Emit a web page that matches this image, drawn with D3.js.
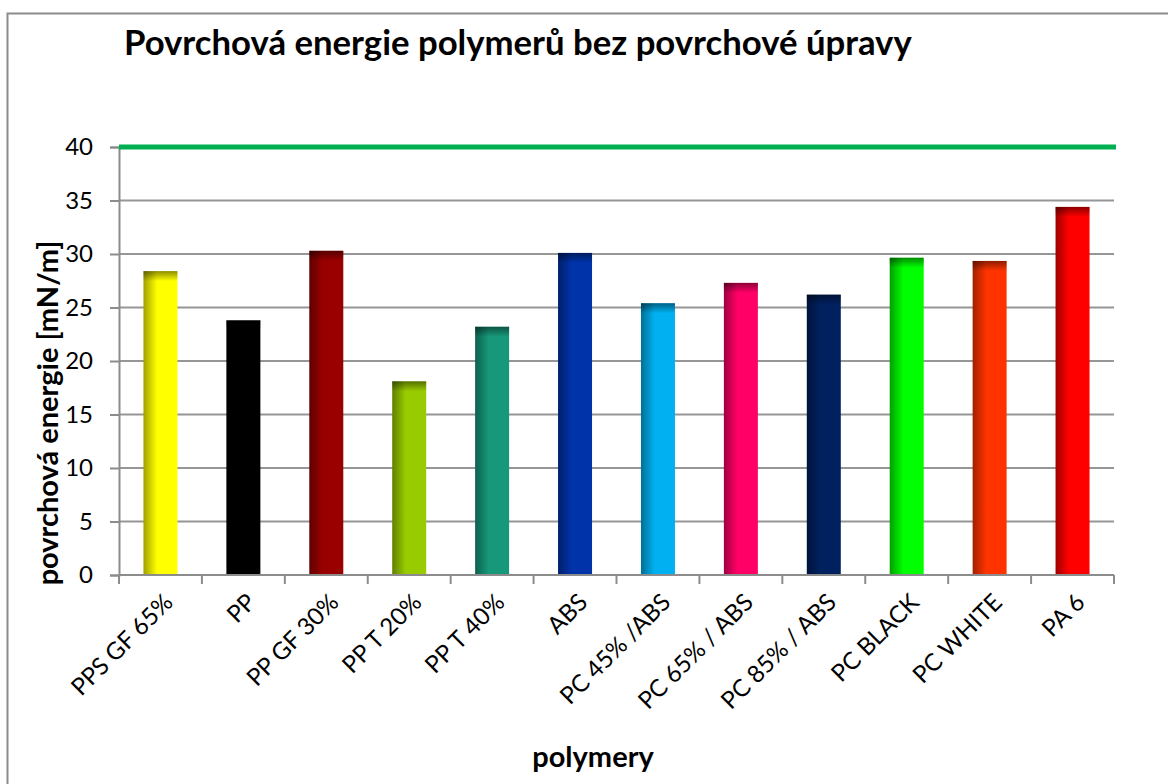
<!DOCTYPE html>
<html>
<head>
<meta charset="utf-8">
<script src="https://cdn.jsdelivr.net/npm/d3@7"></script>
<style>
    body { margin: 0; background: #fff; }
    svg { font-family: Lato, "Open Sans", sans-serif; }
</style>
</head>
<body>
<svg id="chart" width="1168" height="784"></svg>
<script>
let categories = ['PPS GF 65%', 'PP', 'PP GF 30%', 'PP T 20%', 'PP T 40%', 'ABS',
    'PC 45% /ABS', 'PC 65% / ABS', 'PC 85% / ABS', 'PC BLACK', 'PC WHITE', 'PA 6'];
let energies = [28.4, 23.8, 30.3, 18.1, 23.2, 30.1, 25.4, 27.3, 26.2, 29.65, 29.35, 34.4];
let barColors = ['#FFFF00', '#000000', '#990000', '#99CC00', '#17987A', '#0033AA',
    '#00B0F0', '#FF0066', '#002060', '#00FF00', '#FF3300', '#FF0000'];
let yTicks = [0, 5, 10, 15, 20, 25, 30, 35, 40];
let limitValue = 40;

let svg = d3.select('#chart');
let plotLeft = 119, plotRight = 1114, plotTop = 147, plotBottom = 575;

// outer chart border
svg.append('rect')
    .attr('x', 7.5).attr('y', 13.5)
    .attr('width', 1200).attr('height', 800)
    .style('fill', 'none').style('stroke', '#8c8c8c').style('stroke-width', 2);

let x = d3.scaleBand().domain(categories).range([plotLeft, plotRight])
    .paddingInner(0.59).paddingOuter(0.295);
let y = d3.scaleLinear().domain([0, 40]).range([plotBottom, plotTop]);

let defs = svg.append('defs');
categories.forEach((c, i) => {
    let base = d3.color(barColors[i]);
    let dark = i == 1 ? base : base.darker(1.3);
    let g = defs.append('linearGradient').attr('id', 'bar' + i)
        .attr('x1', 0).attr('x2', 1).attr('y1', 0).attr('y2', 0);
    g.append('stop').attr('offset', '0%').attr('stop-color', dark);
    g.append('stop').attr('offset', '40%').attr('stop-color', base);
    g.append('stop').attr('offset', '100%').attr('stop-color', base);
});
let topShade = defs.append('linearGradient').attr('id', 'topShade')
    .attr('x1', 0).attr('x2', 0).attr('y1', 0).attr('y2', 1);
topShade.append('stop').attr('offset', '0%').attr('stop-color', '#000').attr('stop-opacity', 0.45);
topShade.append('stop').attr('offset', '100%').attr('stop-color', '#000').attr('stop-opacity', 0);

// gridlines
svg.append('g').selectAll('line')
    .data(yTicks.filter(t => t > 0))
    .join('line')
    .attr('x1', plotLeft).attr('x2', plotRight)
    .attr('y1', d => y(d)).attr('y2', d => y(d))
    .style('stroke', '#969696').style('stroke-width', 2);

// y axis (labels drawn separately)
let yAxis = svg.append('g')
    .attr('transform', `translate(${plotLeft},0)`)
    .call(d3.axisLeft(y).tickValues(yTicks).tickSize(9).tickFormat(''));
yAxis.select('.domain').style('stroke', '#8c8c8c').style('stroke-width', 2);
yAxis.selectAll('.tick line').style('stroke', '#8c8c8c').style('stroke-width', 2);
svg.append('g').selectAll('text')
    .data(yTicks)
    .join('text')
    .attr('x', plotLeft - 26)
    .attr('y', d => y(d))
    .attr('dy', '0.35em')
    .attr('text-anchor', 'end')
    .style('font-size', '24px')
    .text(d => d);

// bars
let bars = svg.append('g').selectAll('g')
    .data(categories)
    .join('g');
bars.append('rect')
    .attr('x', d => x(d))
    .attr('y', (d, i) => y(energies[i]))
    .attr('width', x.bandwidth())
    .attr('height', (d, i) => y(0) - y(energies[i]))
    .style('fill', (d, i) => `url(#bar${i})`);
bars.append('rect')
    .attr('x', d => x(d))
    .attr('y', (d, i) => y(energies[i]))
    .attr('width', x.bandwidth())
    .attr('height', 10)
    .style('fill', 'url(#topShade)');

// x axis with ticks on category boundaries
let xAxis = svg.append('g');
xAxis.append('line')
    .attr('x1', plotLeft).attr('x2', plotRight)
    .attr('y1', plotBottom).attr('y2', plotBottom)
    .style('stroke', '#8c8c8c').style('stroke-width', 2);
xAxis.selectAll('.bnd')
    .data(d3.range(categories.length + 1))
    .join('line')
    .attr('x1', i => plotLeft + i * x.step()).attr('x2', i => plotLeft + i * x.step())
    .attr('y1', plotBottom).attr('y2', plotBottom + 9)
    .style('stroke', '#8c8c8c').style('stroke-width', 2);
xAxis.selectAll('text')
    .data(categories)
    .join('text')
    .attr('transform', d => `translate(${x(d) + x.bandwidth() / 2 + 2},${plotBottom + 17}) rotate(-45)`)
    .attr('text-anchor', 'end')
    .attr('dy', '0.7em')
    .style('font-size', '24px')
    .text(d => d);

// limit line
svg.append('path')
    .datum([plotLeft, plotRight + 2])
    .attr('d', d3.line().x(d => d).y(() => y(limitValue)))
    .style('stroke', '#00B050').style('stroke-width', 5).style('fill', 'none');

// titles
let title = svg.append('text')
    .attr('x', 124).attr('y', 55)
    .style('font-size', '27px').style('font-weight', 'bold')
    .text('Povrchová energie polymerů bez povrchové úpravy');
let tw = title.node().getComputedTextLength();
title.style('font-size', (27 * 788 / tw) + 'px');

svg.append('text')
    .attr('transform', 'translate(58,413) rotate(-90)')
    .attr('text-anchor', 'middle')
    .style('font-size', '29px').style('font-weight', 'bold')
    .text('povrchová energie [mN/m]');

svg.append('text')
    .attr('x', 593).attr('y', 767)
    .attr('text-anchor', 'middle')
    .style('font-size', '29px').style('font-weight', 'bold')
    .text('polymery');
</script>
</body>
</html>
